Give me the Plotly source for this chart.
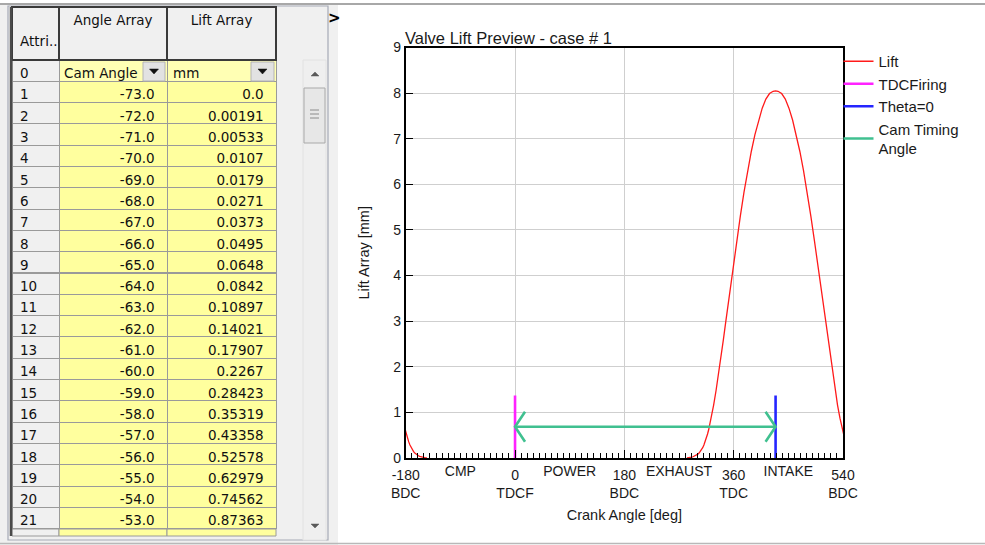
import plotly.graph_objects as go

FIG_W, FIG_H = 985, 545

# ---------------------------------------------------------------- data ----
# Grid rows: cam angle [deg] and valve lift [mm]
row_numbers = list(range(1, 22))
angle_array = [-73.0, -72.0, -71.0, -70.0, -69.0, -68.0, -67.0, -66.0, -65.0, -64.0,
               -63.0, -62.0, -61.0, -60.0, -59.0, -58.0, -57.0, -56.0, -55.0, -54.0, -53.0]
lift_array = [0.0, 0.00191, 0.00533, 0.0107, 0.0179, 0.0271, 0.0373, 0.0495, 0.0648, 0.0842,
              0.10897, 0.14021, 0.17907, 0.2267, 0.28423, 0.35319, 0.43358, 0.52578, 0.62979,
              0.74562, 0.87363]

# Complete lift profile used for the preview (cam angle -> lift)
profile_cam = [-73, -72, -71, -70, -69, -68, -67, -66, -65, -64, -63, -62, -61, -60, -59,
               -58, -57, -56, -55, -54, -53, -51, -49, -47, -45, -43, -41, -38, -35, -32,
               -29, -26, -23, -20, -17, -14, -11, -8, -5, -2, 0, 2, 5, 8, 11, 14, 17, 20,
               23, 26, 29, 32, 35, 38, 41, 43, 45, 47, 49, 51, 53, 54, 55, 56, 57, 58, 59,
               60, 61, 62, 63, 64, 65, 66, 67, 68, 69, 70, 71, 72, 73]
profile_lift = [0.0, 0.00191, 0.00533, 0.0107, 0.0179, 0.0271, 0.0373, 0.0495, 0.0648, 0.0842,
                0.10897, 0.14021, 0.17907, 0.2267, 0.28423, 0.35319, 0.43358, 0.52578,
                0.62979, 0.74562, 0.87363, 1.16, 1.48, 1.83, 2.20, 2.59, 2.99, 3.59, 4.18,
                4.76, 5.31, 5.83, 6.30, 6.72, 7.09, 7.41, 7.67, 7.87, 7.99, 8.04, 8.05,
                8.04, 7.99, 7.87, 7.67, 7.41, 7.09, 6.72, 6.30, 5.83, 5.31, 4.76, 4.18,
                3.59, 2.99, 2.59, 2.20, 1.83, 1.48, 1.16, 0.87363, 0.74562, 0.62979,
                0.52578, 0.43358, 0.35319, 0.28423, 0.2267, 0.17907, 0.14021, 0.10897,
                0.0842, 0.0648, 0.0495, 0.0373, 0.0271, 0.0179, 0.0107, 0.00533, 0.00191,
                0.0]

cam_timing = 429.0      # crank angle of cam zero (Theta=0) [deg]
marker_height = 1.37    # height of the TDC / Theta=0 markers [mm]

major_ticks = [-180, 0, 180, 360, 540]
major_labels = ["-180<br>BDC", "0<br>TDCF", "180<br>BDC", "360<br>TDC", "540<br>BDC"]
stroke_ticks = [-90, 90, 270, 450]
stroke_labels = ["CMP", "POWER", "EXHAUST", "INTAKE"]

X_RANGE = [-180, 540]
Y_RANGE = [0, 9]

# --------------------------------------------------------------- layout ---
def px_x(x):
    return x / FIG_W


def px_y(y):
    return 1 - y / FIG_H


PLOT_L, PLOT_R, PLOT_T, PLOT_B = 405.7, 843.0, 47.5, 458.0

CHART_FONT = "Liberation Sans, Arial, sans-serif"
GRID_FONT = "DejaVu Sans, Verdana, sans-serif"
YELLOW = "#ffff9e"
PANEL = "#f0f0f0"
NBSP = "\u00a0"

# ------------------------------------------------------------ lift curve --
crank = [cam_timing + 2.0 * c for c in profile_cam]
over = [i for i, c in enumerate(crank) if c > X_RANGE[1]]
lift_x, lift_y = [], []
if over:
    k = over[0]
    for i in range(0, k + 1):
        lift_x.append(crank[i]); lift_y.append(profile_lift[i])
    lift_x.append(None); lift_y.append(None)
    for i in range(k - 1, len(crank)):
        lift_x.append(crank[i] - 720.0); lift_y.append(profile_lift[i])
else:
    lift_x, lift_y = crank, profile_lift

fig = go.Figure()

fig.add_trace(go.Scatter(x=lift_x, y=lift_y, mode="lines", name="Lift",
                         line=dict(color="#ff1a1a", width=1.3)))
fig.add_trace(go.Scatter(x=[0, 0], y=[0, marker_height], mode="lines", name="TDCFiring",
                         line=dict(color="#ff22ff", width=2.6)))
fig.add_trace(go.Scatter(x=[cam_timing, cam_timing], y=[0, marker_height], mode="lines",
                         name="Theta=0", line=dict(color="#2525ff", width=2.6)))

# double-headed open arrow between TDC firing and cam zero
deg_per_px = (X_RANGE[1] - X_RANGE[0]) / (PLOT_R - PLOT_L)
mm_per_px = (Y_RANGE[1] - Y_RANGE[0]) / (PLOT_B - PLOT_T)
hx, hy = 10 * deg_per_px, 15 * mm_per_px
ya = marker_height / 2
arrow_x = [hx, 0, hx, None, 0, cam_timing, None, cam_timing - hx, cam_timing, cam_timing - hx]
arrow_y = [ya + hy, ya, ya - hy, None, ya, ya, None, ya + hy, ya, ya - hy]
fig.add_trace(go.Scatter(x=arrow_x, y=arrow_y, mode="lines", name="Cam Timing<br>Angle",
                         line=dict(color="#40c090", width=2.6)))

# empty trace that carries the stroke-name axis
fig.add_trace(go.Scatter(x=X_RANGE, y=[None, None], xaxis="x2", mode="lines",
                         showlegend=False, hoverinfo="skip"))

# ----------------------------------------------------------------- grid ---
def fmt_lift(v):
    s = f"{v:.5f}".rstrip("0")
    return s + "0" if s.endswith(".") else s


col0 = ["0"] + [str(n) for n in row_numbers]
col1 = ["Cam" + NBSP + "Angle" + NBSP * 5] + [f"{a:.1f}" + NBSP for a in angle_array]
col2 = ["mm" + NBSP * 16] + [fmt_lift(v) + NBSP for v in lift_array]
n_rows = len(col0)

fig.add_trace(go.Table(
    domain=dict(x=[px_x(12), px_x(276)], y=[px_y(531), px_y(7)]),
    columnwidth=[47, 108, 109],
    header=dict(
        values=[NBSP + "<br>Attri...", "Angle Array", "Lift Array"],
        fill_color=PANEL,
        line=dict(color="#3a3a3a", width=2),
        align=["left", "center", "center"],
        font=dict(family=GRID_FONT, size=13.5, color="#111111"),
        height=53,
    ),
    cells=dict(
        values=[col0, col1, col2],
        fill_color=[[PANEL] * n_rows,
                    ["#ffffb4"] + [YELLOW] * (n_rows - 1),
                    ["#ffffb4"] + [YELLOW] * (n_rows - 1)],
        line=dict(color="#9a9a9a", width=1),
        align=["left", "right", "right"],
        font=dict(family=GRID_FONT, size=13.5, color="#111111"),
        height=21.3,
    ),
))

# ------------------------------------------------------- panel chrome ----
shapes = []


def rect(x0, y0, x1, y1, fill=None, line=None, lw=1.0, layer="below"):
    shapes.append(dict(type="rect", xref="paper", yref="paper",
                       x0=px_x(x0), x1=px_x(x1), y0=px_y(y1), y1=px_y(y0),
                       fillcolor=fill if fill else "rgba(0,0,0,0)",
                       line=dict(color=line if line else "rgba(0,0,0,0)",
                                 width=lw if line else 0),
                       layer=layer))


def seg(x0, y0, x1, y1, color, lw=1.0, layer="below"):
    shapes.append(dict(type="line", xref="paper", yref="paper",
                       x0=px_x(x0), x1=px_x(x1), y0=px_y(y0), y1=px_y(y1),
                       line=dict(color=color, width=lw), layer=layer))


def tri(cx, cy, w, h, color, down=True):
    """Small filled triangle glyph centred at (cx, cy)."""
    top, bot = (cy - h / 2, cy + h / 2)
    if down:
        pts = [(cx - w / 2, top), (cx + w / 2, top), (cx, bot)]
    else:
        pts = [(cx - w / 2, bot), (cx + w / 2, bot), (cx, top)]
    path = "M " + " L ".join(f"{px_x(x):.5f},{px_y(y):.5f}" for x, y in pts) + " Z"
    shapes.append(dict(type="path", xref="paper", yref="paper", path=path,
                       fillcolor=color, line=dict(color=color, width=0.5), layer="above"))


rect(0, 5, 338, 545, fill=PANEL)                       # grid side panel
seg(0, 4, FIG_W, 4, "#a8a8a8", 2)                     # top frame line
seg(0, 543.5, FIG_W, 543.5, "#b8b8b8", 1.5)           # bottom frame line
rect(8, 6, 328, 540, line="#a6aab6", lw=1.2)          # grid container
rect(12, 529, 59, 536, fill=PANEL, line="#9a9a9a")    # next (clipped) row
rect(59, 529, 167, 536, fill=YELLOW, line="#9a9a9a")
rect(167, 529, 276, 536, fill=YELLOW, line="#9a9a9a")
seg(11, 7, 11, 536, "#4a4a4a", 2.5, "above")           # grid left edge

# vertical scrollbar
rect(303, 60, 326, 540, fill="#efefef", line="#e2e2e2")
rect(304, 88, 325, 143, fill="#e7e7e7", line="#a9a9a9", layer="above")
for gy in (110, 114, 118):
    seg(310, gy, 319, gy, "#8c8c8c", 1, "above")
tri(315, 74, 8, 4, "#5a5a5a", down=False)
tri(315, 526, 8, 4, "#5a5a5a", down=True)

# drop-down buttons in the unit row
rect(143, 62, 165, 81, fill="#e2e2e2", line="#b4b4b4", layer="above")
rect(251, 62, 274, 81, fill="#e2e2e2", line="#b4b4b4", layer="above")
tri(154, 71.5, 9, 5, "#111111")
tri(262.5, 71.5, 9, 5, "#111111")

annotations = [
    dict(x=px_x(334), y=px_y(17.5), text="<b>&gt;</b>",
         font=dict(size=15, color="#000000", family=GRID_FONT),
         xref="paper", yref="paper", showarrow=False, xanchor="center", yanchor="middle"),
]

# --------------------------------------------------------------- axes ----
axis_common = dict(showline=True, linecolor="#000000", linewidth=1.5, mirror=True,
                   zeroline=False, gridcolor="#cfcfcf", gridwidth=1, automargin=False,
                   tickfont=dict(family=CHART_FONT, size=14, color="#1a1a1a"))

fig.update_layout(
    width=FIG_W, height=FIG_H, autosize=False,
    margin=dict(l=0, r=0, t=0, b=0, pad=0),
    paper_bgcolor="#ffffff", plot_bgcolor="#ffffff",
    hovermode=False,
    shapes=shapes,
    annotations=annotations,
    title=dict(text="Valve Lift Preview - case # 1", x=px_x(405), xanchor="left",
               y=px_y(38), yanchor="middle",
               font=dict(family=CHART_FONT, size=16.5, color="#1a1a1a")),
    xaxis=dict(domain=[px_x(PLOT_L), px_x(PLOT_R)], range=X_RANGE,
               tickmode="array", tickvals=major_ticks, ticktext=major_labels,
               ticks="inside", ticklen=8, tickcolor="#000000", showgrid=True,
               ticklabelstandoff=3,
               minor=dict(tick0=-180, dtick=10, ticks="inside", ticklen=5,
                          tickcolor="#000000", showgrid=False),
               title=dict(text="Crank Angle [deg]", standoff=10,
                          font=dict(family=CHART_FONT, size=14.5, color="#1a1a1a")),
               **axis_common),
    xaxis2=dict(overlaying="x", anchor="y", side="bottom", range=X_RANGE,
                tickmode="array", tickvals=stroke_ticks, ticktext=stroke_labels,
                ticks="", showgrid=False, showline=False, zeroline=False, automargin=False,
                ticklabelstandoff=3,
                tickfont=dict(family=CHART_FONT, size=14, color="#1a1a1a")),
    yaxis=dict(domain=[px_y(PLOT_B), px_y(PLOT_T)], range=Y_RANGE,
               tickmode="linear", tick0=0, dtick=1,
               ticks="inside", ticklen=8, tickcolor="#000000", showgrid=True,
               title=dict(text="Lift Array [mm]", standoff=20,
                          font=dict(family=CHART_FONT, size=14.5, color="#1a1a1a")),
               **axis_common),
    legend=dict(x=px_x(838.5), xanchor="left", y=px_y(45), yanchor="top",
                bgcolor="rgba(0,0,0,0)", borderwidth=0, itemwidth=30,
                font=dict(family=CHART_FONT, size=15, color="#1a1a1a")),
)

page_css = ("document.body.style.margin='0';document.body.style.padding='0';"
            "document.body.style.overflow='hidden';")
fig.write_html("out.html", post_script=page_css)
